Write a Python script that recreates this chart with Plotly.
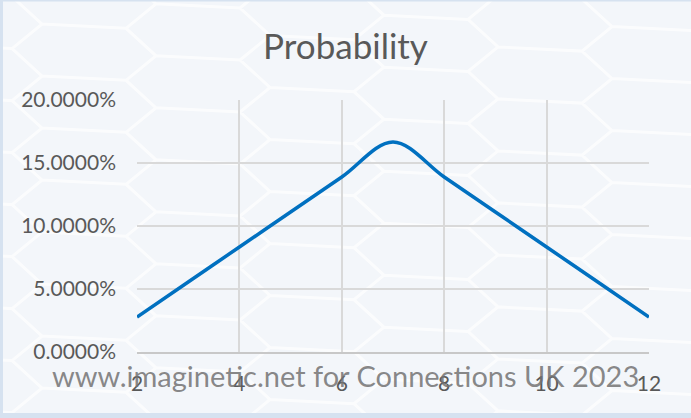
import plotly.graph_objects as go

# Sum of two dice and the probability of each total
totals = [2, 3, 4, 5, 6, 7, 8, 9, 10, 11, 12]
probability = [0.027778, 0.055556, 0.083333, 0.111111, 0.138889, 0.166667,
               0.138889, 0.111111, 0.083333, 0.055556, 0.027778]

y_ticks = [0.0, 0.05, 0.10, 0.15, 0.20]
x_ticks = [2, 4, 6, 8, 10, 12]

W, H = 691, 418
ML, MR, MT, MB = 137, 42, 100, 66
PW, PH = W - ML - MR, H - MT - MB

FONT = "Lato"
TEXT_GREY = "#595959"


def to_paper(px, py):
    return (px - ML) / PW, 1 - (py - MT) / PH


# Decorative hexagon mesh behind the chart
hex_pts = [(-72, 0), (-42, -26), (42, -26), (72, 0), (42, 26), (-42, 26)]
segments = []
col = 0
cx = -30
while cx < W + 100:
    cy = -30 + (26 if col % 2 else 0)
    while cy < H + 60:
        pts = []
        for dx, dy in hex_pts:
            px = cx + dx
            py = cy + dy + 0.05 * (cx + dx)
            pts.append(to_paper(px, py))
        seg = "M {:.4f},{:.4f} ".format(*pts[0])
        seg += " ".join("L {:.4f},{:.4f}".format(*p) for p in pts[1:])
        seg += " Z"
        segments.append(seg)
        cy += 52
    cx += 114
    col += 1
hex_path = " ".join(segments)

fig = go.Figure()
fig.add_trace(go.Scatter(
    x=totals, y=probability, mode="lines",
    line=dict(color="#0070C0", width=3.5, shape="spline", smoothing=1),
    hoverinfo="skip", showlegend=False,
))

shapes = [
    dict(type="path", xref="paper", yref="paper", path=hex_path,
         line=dict(color="#ffffff", width=3), opacity=0.7, layer="below"),
]
# Light blue frame strips on the edges
for (x0, y0, x1, y1) in [(0, 0, 3, H), (0, 413, W, H), (0, 0, W, 1.5)]:
    a0 = to_paper(x0, y0)
    a1 = to_paper(x1, y1)
    shapes.append(dict(type="rect", xref="paper", yref="paper",
                       x0=a0[0], y0=a0[1], x1=a1[0], y1=a1[1],
                       fillcolor="#d6e2f0", line=dict(width=0), layer="above"))

wx, wy = to_paper(345, 375)
fig.update_layout(
    width=W, height=H,
    margin=dict(l=ML, r=MR, t=MT, b=MB, pad=0),
    paper_bgcolor="#f3f6fa",
    plot_bgcolor="rgba(0,0,0,0)",
    title=dict(text="Probability", x=0.5, xref="container", xanchor="center",
               y=1 - 47 / H, yanchor="middle",
               font=dict(family=FONT, size=35, color=TEXT_GREY)),
    xaxis=dict(range=[2, 12], tickvals=x_ticks, ticktext=[str(v) for v in x_ticks],
               showgrid=True, gridcolor="#d9d9d9", gridwidth=2,
               zeroline=False, showline=True, linecolor="#c8c8c8", linewidth=2,
               ticks="", ticklabelstandoff=12,
               tickfont=dict(family=FONT, size=21, color=TEXT_GREY)),
    yaxis=dict(range=[0, 0.2], tickvals=y_ticks, tickformat=".4%",
               showgrid=True, gridcolor="#d9d9d9", gridwidth=2,
               zeroline=False, showline=False,
               ticks="", ticklabelstandoff=20,
               tickfont=dict(family=FONT, size=21, color=TEXT_GREY)),
    shapes=shapes,
    annotations=[dict(text="www.imaginetic.net for Connections UK 2023",
                      xref="paper", yref="paper", x=wx, y=wy,
                      xanchor="center", yanchor="middle", showarrow=False,
                      font=dict(family=FONT, size=29, color="rgba(115,115,115,0.85)"))],
)

fig.write_html("out.html")
